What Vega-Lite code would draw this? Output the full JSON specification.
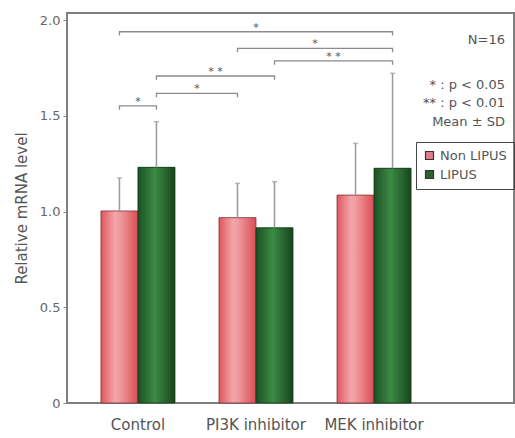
{
  "$schema": "https://vega.github.io/schema/vega-lite/v6.json",
  "width": 447,
  "height": 390,
  "autosize": {"type": "none"},
  "padding": {"left": 67, "top": 13, "right": 1, "bottom": 35},
  "background": "white",
  "config": {
    "font": "DejaVu Sans",
    "view": {"stroke": "#7f7f7f", "strokeWidth": 2}
  },
  "datasets": {
    "bars": [
      {"group": "Control", "trt": "Non LIPUS", "mean": 1.003, "upper": 1.175},
      {"group": "Control", "trt": "LIPUS", "mean": 1.231, "upper": 1.469},
      {"group": "PI3K inhibitor", "trt": "Non LIPUS", "mean": 0.968, "upper": 1.147},
      {"group": "PI3K inhibitor", "trt": "LIPUS", "mean": 0.915, "upper": 1.156},
      {"group": "MEK inhibitor", "trt": "Non LIPUS", "mean": 1.086, "upper": 1.356},
      {"group": "MEK inhibitor", "trt": "LIPUS", "mean": 1.226, "upper": 1.722}
    ],
    "brackets": [
      {"b": 1, "o": 1, "group": "Control", "trt": "Non LIPUS", "y": 1.919},
      {"b": 1, "o": 2, "group": "Control", "trt": "Non LIPUS", "y": 1.939},
      {"b": 1, "o": 3, "group": "MEK inhibitor", "trt": "LIPUS", "y": 1.939},
      {"b": 1, "o": 4, "group": "MEK inhibitor", "trt": "LIPUS", "y": 1.919},
      {"b": 2, "o": 1, "group": "PI3K inhibitor", "trt": "Non LIPUS", "y": 1.832},
      {"b": 2, "o": 2, "group": "PI3K inhibitor", "trt": "Non LIPUS", "y": 1.852},
      {"b": 2, "o": 3, "group": "MEK inhibitor", "trt": "LIPUS", "y": 1.852},
      {"b": 2, "o": 4, "group": "MEK inhibitor", "trt": "LIPUS", "y": 1.832},
      {"b": 3, "o": 1, "group": "PI3K inhibitor", "trt": "LIPUS", "y": 1.767},
      {"b": 3, "o": 2, "group": "PI3K inhibitor", "trt": "LIPUS", "y": 1.787},
      {"b": 3, "o": 3, "group": "MEK inhibitor", "trt": "LIPUS", "y": 1.787},
      {"b": 3, "o": 4, "group": "MEK inhibitor", "trt": "LIPUS", "y": 1.767},
      {"b": 4, "o": 1, "group": "Control", "trt": "LIPUS", "y": 1.688},
      {"b": 4, "o": 2, "group": "Control", "trt": "LIPUS", "y": 1.708},
      {"b": 4, "o": 3, "group": "PI3K inhibitor", "trt": "LIPUS", "y": 1.708},
      {"b": 4, "o": 4, "group": "PI3K inhibitor", "trt": "LIPUS", "y": 1.688},
      {"b": 5, "o": 1, "group": "Control", "trt": "LIPUS", "y": 1.597},
      {"b": 5, "o": 2, "group": "Control", "trt": "LIPUS", "y": 1.617},
      {"b": 5, "o": 3, "group": "PI3K inhibitor", "trt": "Non LIPUS", "y": 1.617},
      {"b": 5, "o": 4, "group": "PI3K inhibitor", "trt": "Non LIPUS", "y": 1.597},
      {"b": 6, "o": 1, "group": "Control", "trt": "Non LIPUS", "y": 1.532},
      {"b": 6, "o": 2, "group": "Control", "trt": "Non LIPUS", "y": 1.552},
      {"b": 6, "o": 3, "group": "Control", "trt": "LIPUS", "y": 1.552},
      {"b": 6, "o": 4, "group": "Control", "trt": "LIPUS", "y": 1.532}
    ],
    "stars": [
      {"g1": "Control", "t1": "Non LIPUS", "g2": "MEK inhibitor", "t2": "LIPUS", "y": 1.939, "label": "*"},
      {"g1": "PI3K inhibitor", "t1": "Non LIPUS", "g2": "MEK inhibitor", "t2": "LIPUS", "y": 1.852, "label": "*"},
      {"g1": "PI3K inhibitor", "t1": "LIPUS", "g2": "MEK inhibitor", "t2": "LIPUS", "y": 1.787, "label": "* *"},
      {"g1": "Control", "t1": "LIPUS", "g2": "PI3K inhibitor", "t2": "LIPUS", "y": 1.708, "label": "* *"},
      {"g1": "Control", "t1": "LIPUS", "g2": "PI3K inhibitor", "t2": "Non LIPUS", "y": 1.617, "label": "*"},
      {"g1": "Control", "t1": "Non LIPUS", "g2": "Control", "t2": "LIPUS", "y": 1.552, "label": "*"}
    ]
  },
  "layer": [
    {
      "data": {"name": "bars"},
      "mark": {"type": "bar"},
      "encoding": {
        "x": {
          "field": "group", "type": "nominal",
          "scale": {"domain": ["Control", "PI3K inhibitor", "MEK inhibitor"], "paddingInner": 0.373, "paddingOuter": 0.58, "align": 0.248},
          "axis": {"title": null, "ticks": false, "domain": false, "labelPadding": 14, "labelFontSize": 15, "labelColor": "#555555", "labelAngle": 0},
          "title": null
        },
        "xOffset": {
          "field": "trt", "type": "nominal",
          "scale": {"domain": ["Non LIPUS", "LIPUS"], "paddingInner": 0, "paddingOuter": 0}
        },
        "y": {
          "field": "mean", "type": "quantitative",
          "scale": {"domain": [0, 2.037], "nice": false, "zero": true},
          "title": "Relative mRNA level",
          "axis": {
            "values": [0, 0.5, 1, 1.5, 2],
            "labelExpr": "datum.value == 0 ? '0' : format(datum.value, '.1f')",
            "grid": false, "domain": false, "tickSize": 4, "tickColor": "#888888",
            "labelFontSize": 13, "labelColor": "#666666", "labelPadding": 3,
            "titleFontSize": 15, "titleColor": "#555555", "titleFontWeight": "normal", "titlePadding": 10
          }
        },
        "color": {
          "field": "trt", "type": "nominal",
          "scale": {"domain": ["Non LIPUS", "LIPUS"], "range": ["#e07a8c", "#2b6232"]},
          "legend": {
            "title": null, "orient": "none", "legendX": 349, "legendY": 129,
            "strokeColor": "#444444", "padding": 7, "rowPadding": 5,
            "symbolType": "square", "symbolSize": 64, "symbolStrokeColor": "#333333", "symbolStrokeWidth": 1.2,
            "labelFontSize": 13, "labelColor": "#555555", "labelOffset": 4,
            "labelExpr": "datum.label == 'LIPUS' ? '\u2002LIPUS' : datum.label"
          }
        }
      }
    },
    {
      "data": {"name": "bars"},
      "transform": [{"filter": "datum.trt == 'Non LIPUS'"}],
      "mark": {
        "type": "bar", "stroke": "#7a3434", "strokeWidth": 0.8,
        "fill": {"gradient": "linear", "x1": 0, "x2": 1, "y1": 0, "y2": 0,
          "stops": [
            {"offset": 0, "color": "#e2565e"},
            {"offset": 0.38, "color": "#f3a6aa"},
            {"offset": 0.55, "color": "#ee9599"},
            {"offset": 1, "color": "#dc4c55"}
          ]}
      },
      "encoding": {
        "x": {"field": "group", "type": "nominal"},
        "xOffset": {"field": "trt", "type": "nominal"},
        "y": {"field": "mean", "type": "quantitative"}
      }
    },
    {
      "data": {"name": "bars"},
      "transform": [{"filter": "datum.trt == 'LIPUS'"}],
      "mark": {
        "type": "bar", "stroke": "#123a17", "strokeWidth": 0.8,
        "fill": {"gradient": "linear", "x1": 0, "x2": 1, "y1": 0, "y2": 0,
          "stops": [
            {"offset": 0, "color": "#1b5024"},
            {"offset": 0.45, "color": "#3d8a44"},
            {"offset": 1, "color": "#16461e"}
          ]}
      },
      "encoding": {
        "x": {"field": "group", "type": "nominal"},
        "xOffset": {"field": "trt", "type": "nominal"},
        "y": {"field": "mean", "type": "quantitative"}
      }
    },
    {
      "data": {"name": "bars"},
      "mark": {"type": "rule", "color": "#9a9a9a", "strokeWidth": 1.5},
      "encoding": {
        "x": {"field": "group", "type": "nominal"},
        "xOffset": {"field": "trt", "type": "nominal"},
        "y": {"field": "mean", "type": "quantitative"},
        "y2": {"field": "upper"}
      }
    },
    {
      "data": {"name": "bars"},
      "mark": {"type": "tick", "color": "#9a9a9a", "size": 5, "thickness": 1.5},
      "encoding": {
        "x": {"field": "group", "type": "nominal"},
        "xOffset": {"field": "trt", "type": "nominal"},
        "y": {"field": "upper", "type": "quantitative"}
      }
    },
    {
      "data": {"name": "brackets"},
      "mark": {"type": "line", "color": "#8c8c8c", "strokeWidth": 1.3},
      "encoding": {
        "x": {"field": "group", "type": "nominal"},
        "xOffset": {"field": "trt", "type": "nominal"},
        "y": {"field": "y", "type": "quantitative"},
        "detail": {"field": "b", "type": "nominal"},
        "order": {"field": "o", "type": "quantitative"}
      }
    },
    {
      "data": {"name": "stars"},
      "mark": {"type": "text", "fontSize": 11, "color": "#555555", "baseline": "alphabetic", "align": "center", "dy": -1},
      "encoding": {
        "x": {"value": {"expr": "(scale('x', datum.g1) + scale('xOffset', datum.t1) + scale('x', datum.g2) + scale('xOffset', datum.t2) + bandwidth('xOffset')) / 2"}},
        "y": {"field": "y", "type": "quantitative"},
        "text": {"field": "label"}
      }
    },
    {
      "data": {"values": [{"label": "N=16"}]},
      "mark": {"type": "text", "fontSize": 13, "color": "#555555", "align": "right", "baseline": "middle", "dx": -9},
      "encoding": {
        "x": {"value": "width"},
        "y": {"datum": 1.896, "type": "quantitative"},
        "text": {"field": "label"}
      }
    },
    {
      "data": {"values": [{"lines": ["* : p < 0.05", "** : p < 0.01", "Mean ± SD"]}]},
      "mark": {"type": "text", "fontSize": 13, "color": "#555555", "align": "right", "baseline": "middle", "dx": -9, "lineHeight": 18.5},
      "encoding": {
        "x": {"value": "width"},
        "y": {"datum": 1.661, "type": "quantitative"},
        "text": {"field": "lines"}
      }
    }
  ]
}
